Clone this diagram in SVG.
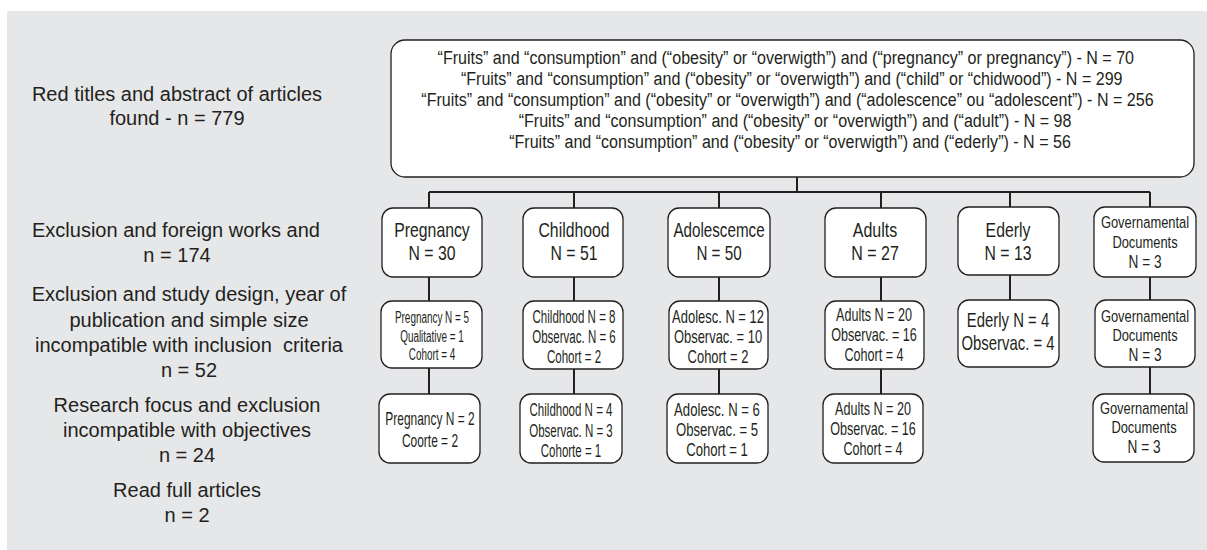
<svg xmlns="http://www.w3.org/2000/svg" width="1207" height="550" viewBox="0 0 1207 550">
<style>
  text { font-family: "Liberation Sans", Arial, sans-serif; fill: #231f20; text-anchor: middle; }
  .lbl { font-size: 20px; }
  .q { font-size: 19px; }
  .h { font-size: 20px; }
  .s { font-size: 18px; }
  .t { font-size: 16px; }
  .g { font-size: 17px; }
  .gn { font-size: 18px; }
  .box { fill: #ffffff; stroke: #231f20; stroke-width: 1.3; }
  .con { stroke: #231f20; stroke-width: 2; fill: none; }
</style>
<rect x="0" y="0" width="1207" height="550" fill="#ffffff"/>
<rect x="7" y="11" width="1200" height="539" fill="#e6e7e9"/>

<g id="labels">
  <text class="lbl" x="177" y="101">Red titles and abstract of articles</text>
  <text class="lbl" x="177" y="125">found - n = 779</text>
  <text class="lbl" x="176" y="237">Exclusion and foreign works and</text>
  <text class="lbl" x="177" y="262">n = 174</text>
  <text class="lbl" x="189" y="301">Exclusion and study design, year of</text>
  <text class="lbl" x="189" y="327">publication and simple size</text>
  <text class="lbl" x="189" y="352">incompatible with inclusion&#160; criteria</text>
  <text class="lbl" x="189" y="377">n = 52</text>
  <text class="lbl" x="187" y="412">Research focus and exclusion</text>
  <text class="lbl" x="187" y="437">incompatible with objectives</text>
  <text class="lbl" x="187" y="462">n = 24</text>
  <text class="lbl" x="187" y="497">Read full articles</text>
  <text class="lbl" x="187" y="522">n = 2</text>
</g>

<g id="connectors">
  <path class="con" d="M797 177 V192"/>
  <path class="con" d="M429 192 H1150"/>
  <path class="con" d="M429 192 V208 M574 192 V208 M719 192 V208 M881 192 V208 M1010 192 V207 M1150 192 V207"/>
  <path class="con" d="M429 277 V301 M429 368 V394"/>
  <path class="con" d="M574 277 V301 M574 369 V394"/>
  <path class="con" d="M719 277 V301 M719 369 V394"/>
  <path class="con" d="M881 277 V301 M881 369 V394"/>
  <path class="con" d="M1010 275 V300"/>
  <path class="con" d="M1150 277 V300 M1150 367 V394"/>
</g>

<g id="search">
  <rect class="box" x="391" y="40" width="803" height="137" rx="14"/>
  <g transform="translate(790,0) scale(0.846,1)">
    <text class="q" x="-5" y="64">“Fruits” and “consumption” and (“obesity” or “overwigth”) and (“pregnancy” or pregnancy”) - N = 70</text>
    <text class="q" x="2" y="85">“Fruits” and “consumption” and (“obesity” or “overwigth”) and (“child” or “chidwood”) - N = 299</text>
    <text class="q" x="-3" y="106">“Fruits” and “consumption” and (“obesity” or “overwigth”) and (“adolescence” ou “adolescent”) - N = 256</text>
    <text class="q" x="6" y="127">“Fruits” and “consumption” and (“obesity” or “overwigth”) and (“adult”) - N = 98</text>
    <text class="q" x="0" y="148">“Fruits” and “consumption” and (“obesity” or “overwigth”) and (“ederly”) - N = 56</text>
  </g>
</g>

<g id="pregnancy">
  <rect class="box" x="382" y="208" width="100" height="69" rx="11"/>
  <g transform="translate(432,0) scale(0.79,1)">
    <text class="h" x="0" y="237">Pregnancy</text>
    <text class="h" x="0" y="260">N = 30</text>
  </g>
</g>
<g id="childhood">
  <rect class="box" x="523" y="208" width="100" height="69" rx="11"/>
  <g transform="translate(574,0) scale(0.79,1)">
    <text class="h" x="0" y="237">Childhood</text>
    <text class="h" x="0" y="260">N = 51</text>
  </g>
</g>
<g id="adolescence">
  <rect class="box" x="668" y="208" width="102" height="69" rx="11"/>
  <g transform="translate(719,0) scale(0.76,1)">
    <text class="h" x="0" y="237">Adolescemce</text>
    <text class="h" x="0" y="260">N = 50</text>
  </g>
</g>
<g id="adults">
  <rect class="box" x="825" y="208" width="101" height="69" rx="11"/>
  <g transform="translate(875,0) scale(0.8,1)">
    <text class="h" x="0" y="237">Adults</text>
    <text class="h" x="0" y="260">N = 27</text>
  </g>
</g>
<g id="ederly">
  <rect class="box" x="958" y="207" width="101" height="68" rx="11"/>
  <g transform="translate(1008,0) scale(0.79,1)">
    <text class="h" x="0" y="237">Ederly</text>
    <text class="h" x="0" y="260">N = 13</text>
  </g>
</g>
<g id="governmental">
  <rect class="box" x="1094" y="207" width="102" height="70" rx="11"/>
  <g transform="translate(1145,0) scale(0.76,1)">
    <text class="g" x="0" y="228">Governamental</text>
    <text class="g" x="0" y="248">Documents</text>
    <text class="gn" x="0" y="268">N = 3</text>
  </g>
</g>

<g id="pregnancy-design">
  <rect class="box" x="381" y="301" width="101" height="67" rx="11"/>
  <g transform="translate(432,0) scale(0.62,1)">
    <text class="t" x="0" y="323">Pregnancy N = 5</text>
    <text class="t" x="0" y="342">Qualitative = 1</text>
    <text class="t" x="0" y="360">Cohort = 4</text>
  </g>
</g>
<g id="childhood-design">
  <rect class="box" x="523" y="301" width="100" height="68" rx="11"/>
  <g transform="translate(574,0) scale(0.64,1)">
    <text class="s" x="0" y="323">Childhood N = 8</text>
    <text class="s" x="0" y="343">Observac. N = 6</text>
    <text class="s" x="0" y="363">Cohort = 2</text>
  </g>
</g>
<g id="adolescence-design">
  <rect class="box" x="669" y="301" width="99" height="68" rx="11"/>
  <g transform="translate(718,0) scale(0.72,1)">
    <text class="s" x="0" y="323">Adolesc. N = 12</text>
    <text class="s" x="0" y="343">Observac. = 10</text>
    <text class="s" x="0" y="363">Cohort = 2</text>
  </g>
</g>
<g id="adults-design">
  <rect class="box" x="825" y="301" width="99" height="68" rx="11"/>
  <g transform="translate(874,0) scale(0.7,1)">
    <text class="s" x="0" y="321">Adults N = 20</text>
    <text class="s" x="0" y="341">Observac. = 16</text>
    <text class="s" x="0" y="361">Cohort = 4</text>
  </g>
</g>
<g id="ederly-design">
  <rect class="box" x="958" y="300" width="101" height="67" rx="11"/>
  <g transform="translate(1008,0) scale(0.745,1)">
    <text class="h" x="0" y="327">Ederly N = 4</text>
    <text class="h" x="0" y="350">Observac. = 4</text>
  </g>
</g>
<g id="governmental-design">
  <rect class="box" x="1095" y="300" width="100" height="67" rx="11"/>
  <g transform="translate(1145,0) scale(0.76,1)">
    <text class="g" x="0" y="322">Governamental</text>
    <text class="g" x="0" y="341.5">Documents</text>
    <text class="gn" x="0" y="361">N = 3</text>
  </g>
</g>

<g id="pregnancy-focus">
  <rect class="box" x="379" y="394" width="101" height="69" rx="11"/>
  <g transform="translate(430,0) scale(0.665,1)">
    <text class="s" x="0" y="425">Pregnancy N = 2</text>
    <text class="s" x="0" y="447">Coorte = 2</text>
  </g>
</g>
<g id="childhood-focus">
  <rect class="box" x="520" y="394" width="102" height="69" rx="11"/>
  <g transform="translate(571,0) scale(0.64,1)">
    <text class="s" x="0" y="416">Childhood N = 4</text>
    <text class="s" x="0" y="437">Observac. N = 3</text>
    <text class="s" x="0" y="457">Cohorte = 1</text>
  </g>
</g>
<g id="adolescence-focus">
  <rect class="box" x="667" y="394" width="101" height="69" rx="11"/>
  <g transform="translate(717,0) scale(0.73,1)">
    <text class="s" x="0" y="416">Adolesc. N = 6</text>
    <text class="s" x="0" y="436">Observac. = 5</text>
    <text class="s" x="0" y="456">Cohort = 1</text>
  </g>
</g>
<g id="adults-focus">
  <rect class="box" x="823" y="394" width="100" height="69" rx="11"/>
  <g transform="translate(873,0) scale(0.7,1)">
    <text class="s" x="0" y="415">Adults N = 20</text>
    <text class="s" x="0" y="435">Observac. = 16</text>
    <text class="s" x="0" y="455">Cohort = 4</text>
  </g>
</g>
<g id="governmental-focus">
  <rect class="box" x="1093" y="394" width="101" height="68" rx="11"/>
  <g transform="translate(1144,0) scale(0.76,1)">
    <text class="g" x="0" y="414">Governamental</text>
    <text class="g" x="0" y="433.5">Documents</text>
    <text class="gn" x="0" y="453">N = 3</text>
  </g>
</g>
</svg>
